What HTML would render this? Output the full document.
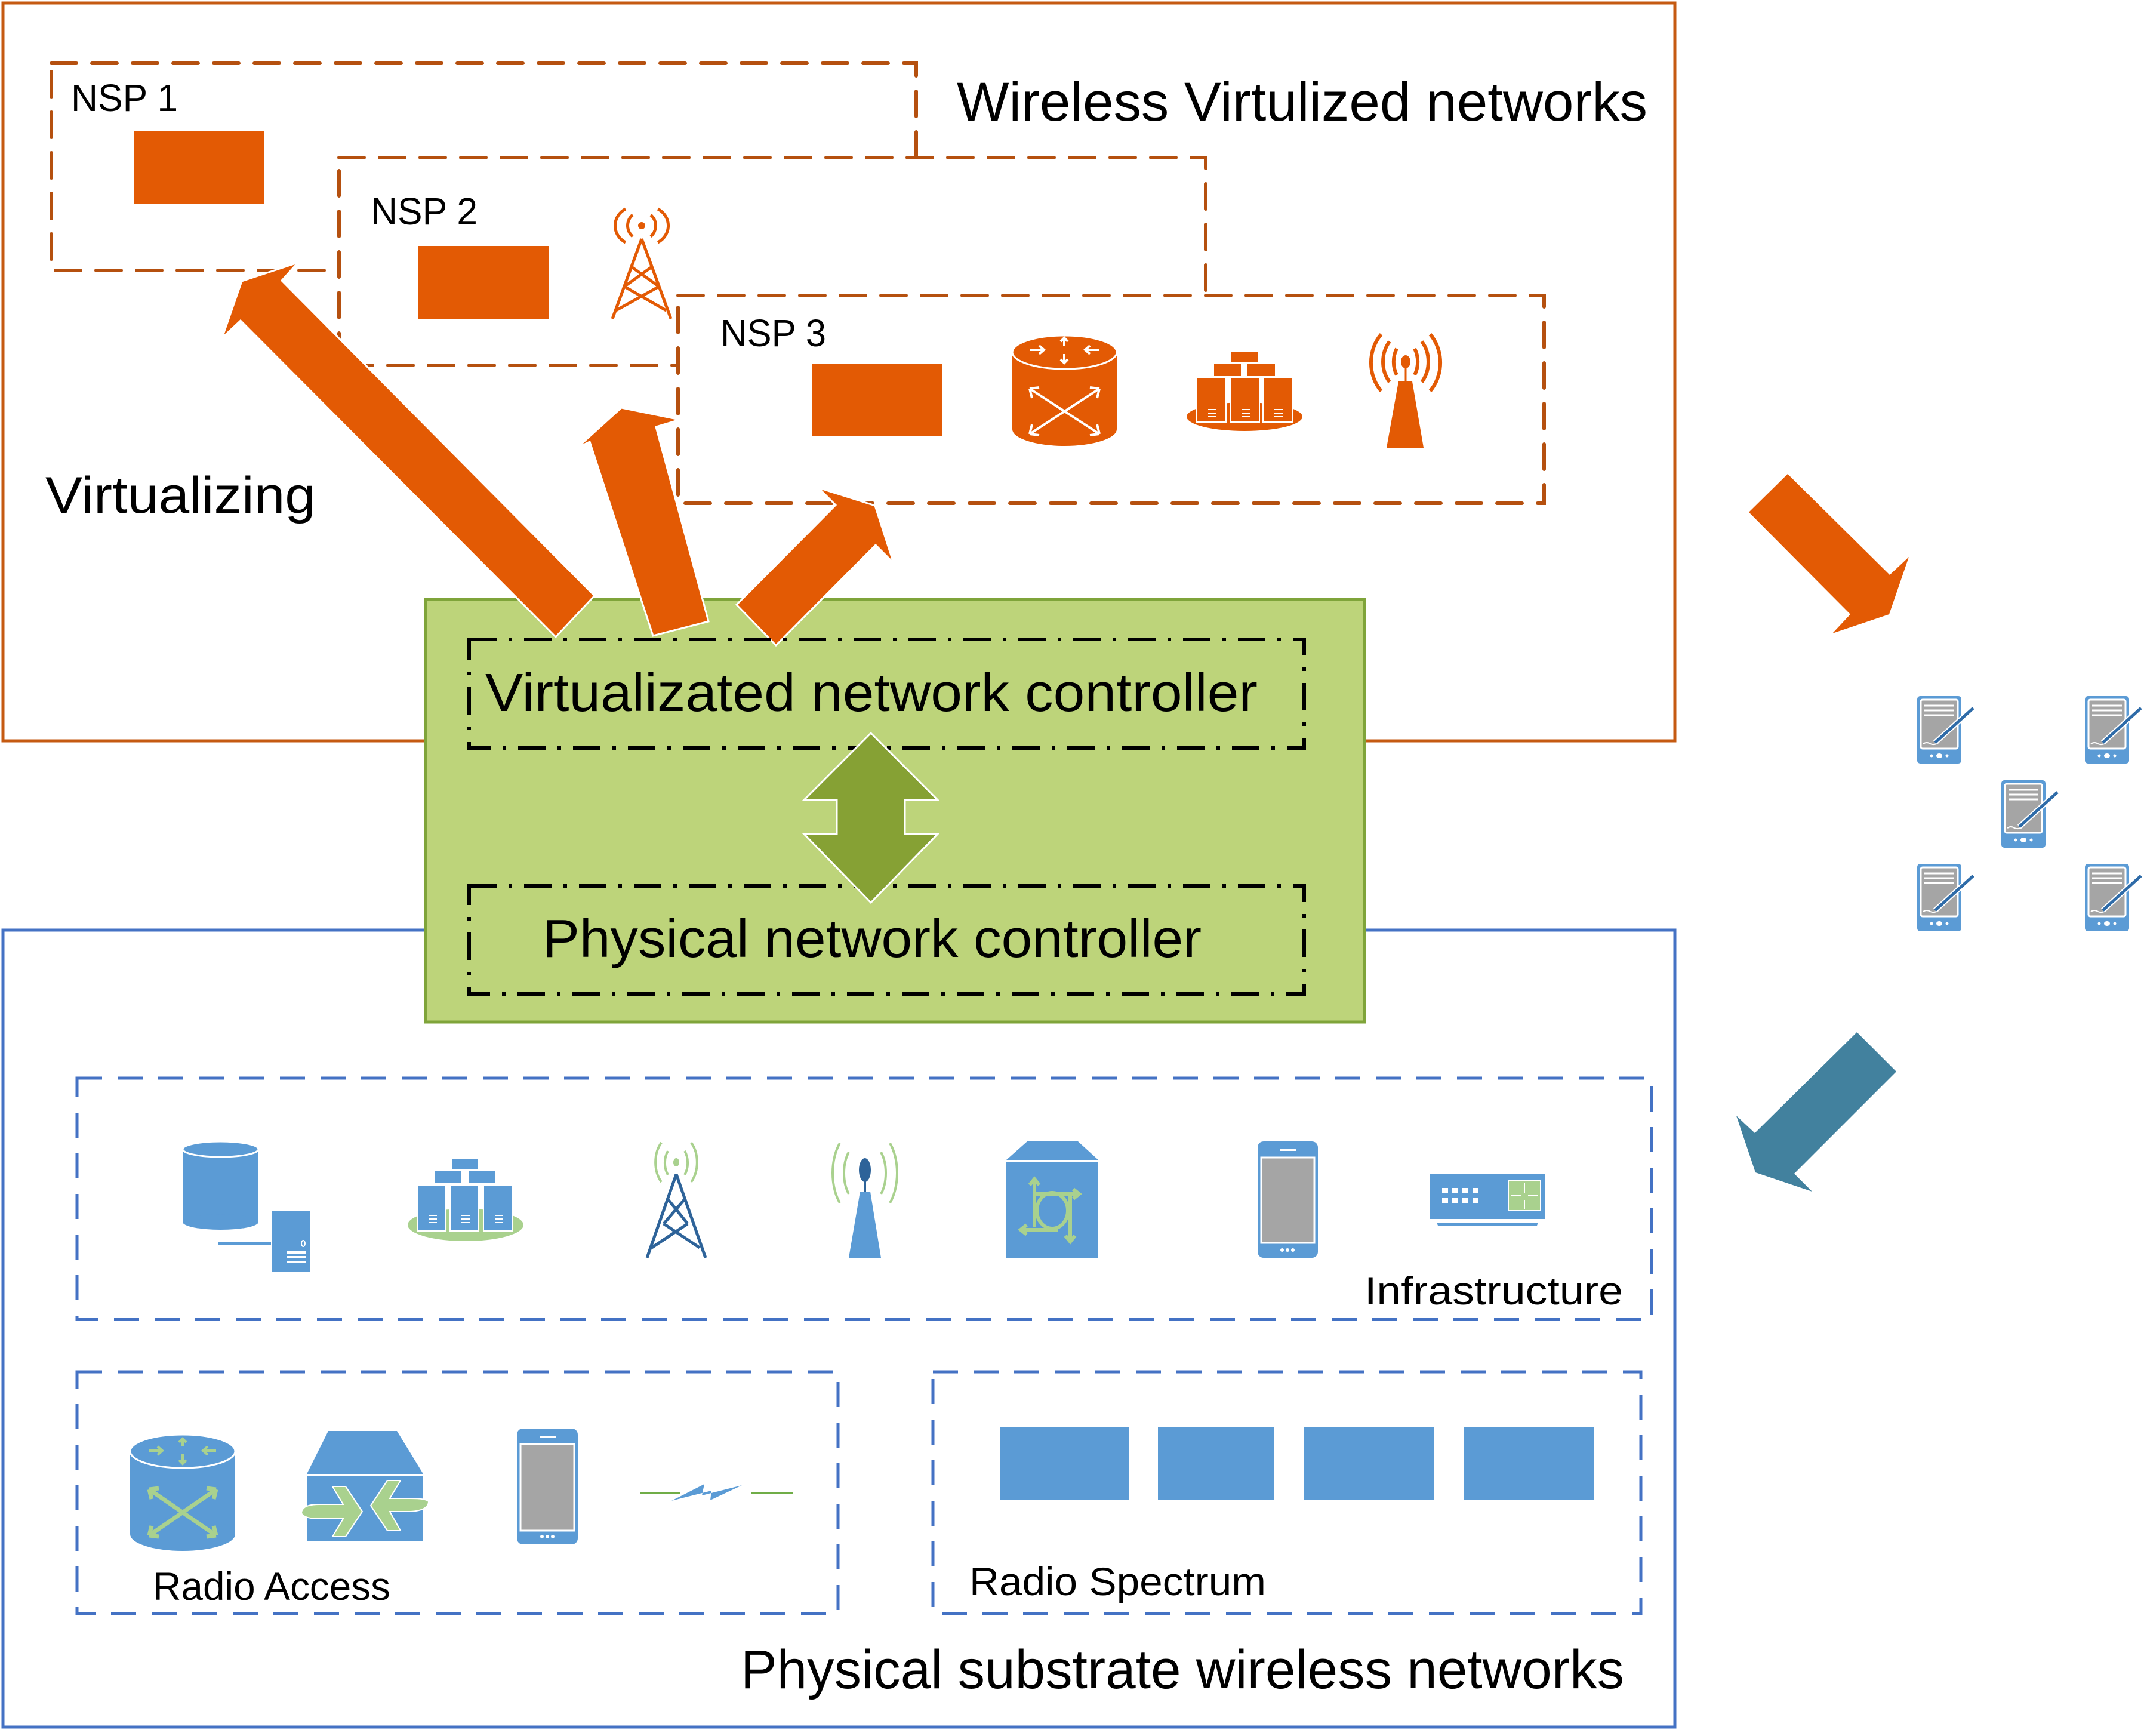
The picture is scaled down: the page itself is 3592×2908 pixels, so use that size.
<!DOCTYPE html>
<html><head><meta charset="utf-8"><style>html,body{margin:0;padding:0;background:#fff}svg{display:block}</style></head>
<body>
<svg xmlns="http://www.w3.org/2000/svg" width="3592" height="2908" viewBox="0 0 3592 2908" font-family="Liberation Sans, sans-serif">
<defs>
<g id="tab">
 <rect x="0" y="0" width="74" height="113" rx="5" fill="#5B9BD5"/>
 <rect x="6" y="6" width="62" height="82" rx="3" fill="#A5A5A5" stroke="#fff" stroke-width="3"/>
 <line x1="12" y1="16" x2="62" y2="16" stroke="#fff" stroke-width="3"/>
 <line x1="12" y1="24" x2="62" y2="24" stroke="#fff" stroke-width="3"/>
 <line x1="12" y1="32" x2="62" y2="32" stroke="#fff" stroke-width="3"/>
 <path d="M10 80 q6 -4 12 0 q6 3 14 -2" fill="none" stroke="#fff" stroke-width="2"/>
 <line x1="30" y1="78" x2="94" y2="20" stroke="#fff" stroke-width="9"/>
 <line x1="30" y1="78" x2="94" y2="20" stroke="#2E6BA8" stroke-width="5"/>
 <circle cx="24" cy="100" r="2.5" fill="#fff"/><ellipse cx="37" cy="100" rx="5" ry="4" fill="#fff"/><circle cx="50" cy="100" r="2.5" fill="#fff"/>
</g>
</defs>

<!-- top orange box -->
<rect x="5" y="5" width="2801" height="1236" fill="#fff" stroke="#C55A11" stroke-width="5"/>
<!-- bottom blue box -->
<rect x="5" y="1558" width="2801" height="1335" fill="#fff" stroke="#4472C4" stroke-width="5"/>

<text x="1603" y="202" font-size="92" textLength="1157" lengthAdjust="spacingAndGlyphs">Wireless Virtulized networks</text>
<text x="76" y="859" font-size="86" textLength="453" lengthAdjust="spacingAndGlyphs">Virtualizing</text>

<!-- NSP boxes -->
<g stroke="#B5500F" stroke-width="6" stroke-dasharray="42 26" stroke-linecap="round" fill="#fff">
<rect x="86" y="106" width="1449" height="347"/>
<rect x="568" y="264" width="1452" height="348"/>
<rect x="1136" y="495" width="1451" height="348"/>
</g>
<text x="119" y="186" font-size="64" textLength="179" lengthAdjust="spacingAndGlyphs">NSP 1</text>
<text x="621" y="376" font-size="64" textLength="179" lengthAdjust="spacingAndGlyphs">NSP 2</text>
<text x="1207" y="580" font-size="64" textLength="177" lengthAdjust="spacingAndGlyphs">NSP 3</text>
<g fill="#E35A04">
<rect x="224" y="220" width="218" height="121"/>
<rect x="701" y="412" width="218" height="122"/>
<rect x="1361" y="609" width="217" height="122"/>
</g>

<!-- NSP2 tower (outline) -->
<g stroke="#E35A04" stroke-width="5" fill="none">
<path d="M1075 400 L1026 534 M1075 400 L1124 534 M1058 447 L1104 480 M1092 447 L1046 480 M1046 480 L1116 520 M1104 480 L1032 520"/>
<path d="M1060 360 a20 22 0 0 0 0 36 M1090 360 a20 22 0 0 1 0 36 M1048 350 a34 32 0 0 0 0 56 M1102 350 a34 32 0 0 1 0 56"/>
</g>
<circle cx="1075" cy="378" r="6" fill="#E35A04"/>

<!-- NSP3 icons: router cylinder -->
<g>
<rect x="1696" y="590" width="175" height="129" fill="#E35A04"/>
<ellipse cx="1783.5" cy="719" rx="87.5" ry="28" fill="#E35A04"/>
<ellipse cx="1783.5" cy="590" rx="87.5" ry="28" fill="#E35A04" stroke="#fff" stroke-width="3"/>
<g stroke="#fff" stroke-width="4" fill="none">
<path d="M1725 651 L1842 727 M1842 651 L1725 727"/>
<path d="M1725 651 l4 16 M1725 651 l16 -2 M1842 651 l-4 16 M1842 651 l-16 -2 M1725 727 l4 -16 M1725 727 l16 2 M1842 727 l-4 -16 M1842 727 l-16 2"/>
<path d="M1725 586 h24 m-8 -7 l8 7 l-8 7 M1842 586 h-24 m8 -7 l-8 7 l8 7 M1783 566 v14 m-6 -8 l6 -6 l6 6 M1783 593 v15 m-6 -6 l6 6 l6 -6"/>
</g>
</g>
<!-- server cluster orange -->
<g>
<ellipse cx="2085" cy="698" rx="97" ry="24" fill="#E35A04"/>
<g fill="#E35A04" stroke="#fff" stroke-width="2">
<rect x="2061" y="589" width="47" height="18"/>
<rect x="2033" y="609" width="47" height="22"/><rect x="2089" y="609" width="48" height="22"/>
<rect x="2005" y="633" width="49" height="74"/><rect x="2061" y="633" width="49" height="74"/><rect x="2116" y="633" width="49" height="74"/>
</g>
<g stroke="#fff" stroke-width="2">
<path d="M2024 686h14M2024 692h14M2024 698h14M2080 686h14M2080 692h14M2080 698h14M2135 686h14M2135 692h14M2135 698h14"/>
</g>
</g>
<!-- orange antenna -->
<g>
<polygon points="2343,639 2366,639 2385,750 2323,750" fill="#E35A04"/>
<line x1="2355" y1="610" x2="2355" y2="640" stroke="#E35A04" stroke-width="3"/>
<ellipse cx="2355" cy="606" rx="8" ry="11" fill="#E35A04"/>
<g stroke="#E35A04" stroke-width="6" fill="none">
<path d="M2340 584 a28 38 0 0 0 0 44 M2370 584 a28 38 0 0 1 0 44"/>
<path d="M2328 572 a45 52 0 0 0 0 68 M2382 572 a45 52 0 0 1 0 68"/>
<path d="M2314 560 a60 68 0 0 0 0 95 M2396 560 a60 68 0 0 1 0 95"/>
</g>
</g>

<!-- green controller box -->
<rect x="713" y="1004" width="1573" height="708" fill="#BDD47A" stroke="#7FA43A" stroke-width="5"/>

<!-- big orange arrows -->
<g fill="#E35A04" stroke="#fff" stroke-width="3" stroke-linejoin="miter">
<polygon points="472,470 499,440 405,471 372,566 403,537 931,1067 996,998"/>
<polygon points="1041,683 967,750 988,740 1094,1065 1187,1041 1099,715 1139,703"/>
<polygon points="1371,817 1400,846 1234,1013 1300,1081 1467,913 1497,943 1466,847"/>
</g>

<!-- dash-dot controller boxes -->
<g stroke="#000" stroke-width="6" stroke-dasharray="46 20 6 20" fill="none">
<rect x="786" y="1071" width="1399" height="182"/>
<rect x="786" y="1484" width="1399" height="181"/>
</g>
<text x="813" y="1191" font-size="90" textLength="1294" lengthAdjust="spacingAndGlyphs">Virtualizated network controller</text>
<text x="909" y="1603" font-size="90" textLength="1104" lengthAdjust="spacingAndGlyphs">Physical network controller</text>

<!-- double arrow -->
<polygon points="1459,1228 1571,1340 1516,1340 1516,1397 1571,1397 1459,1512 1347,1397 1402,1397 1402,1340 1347,1340" fill="#86A134" stroke="#fff" stroke-width="3"/>

<!-- right arrows -->
<polygon points="2995,794 2930,858 3100,1029 3070,1061 3165,1029 3198,933 3166,963" fill="#E35A04"/>
<polygon points="3111,1729 3177,1795 3006,1966 3036,1996 2941,1964 2909,1869 2940,1898" fill="#42819E"/>

<!-- tablets -->
<use href="#tab" x="3212" y="1166"/>
<use href="#tab" x="3493" y="1166"/>
<use href="#tab" x="3353" y="1307"/>
<use href="#tab" x="3212" y="1447"/>
<use href="#tab" x="3493" y="1447"/>

<!-- bottom dashed boxes -->
<g stroke="#4472C4" stroke-width="5" stroke-dasharray="42 26" fill="none">
<rect x="129" y="1806" width="2638" height="404"/>
<rect x="129" y="2298" width="1275" height="405"/>
<rect x="1563" y="2298" width="1186" height="405"/>
</g>
<text x="2286" y="2185" font-size="66" textLength="433" lengthAdjust="spacingAndGlyphs">Infrastructure</text>
<text x="256" y="2680" font-size="66" textLength="398" lengthAdjust="spacingAndGlyphs">Radio Access</text>
<text x="1624" y="2672" font-size="66" textLength="497" lengthAdjust="spacingAndGlyphs">Radio Spectrum</text>
<text x="1241" y="2828" font-size="92" textLength="1480" lengthAdjust="spacingAndGlyphs">Physical substrate wireless networks</text>

<g fill="#5B9BD5">
<rect x="1675" y="2391" width="217" height="122"/>
<rect x="1940" y="2391" width="195" height="122"/>
<rect x="2185" y="2391" width="218" height="122"/>
<rect x="2453" y="2391" width="218" height="122"/>
</g>

<!-- infra: DB + server -->
<g fill="#5B9BD5">
<rect x="306" y="1925" width="127" height="122"/>
<ellipse cx="369.5" cy="2047" rx="63.5" ry="13"/>
<ellipse cx="369.5" cy="1925" rx="63.5" ry="13" stroke="#fff" stroke-width="3"/>
<rect x="456" y="2029" width="64" height="101"/>
<rect x="366" y="2081" width="88" height="4"/>
</g>
<g stroke="#fff" stroke-width="4"><path d="M481 2098h32M481 2106h32M481 2114h32"/></g>
<ellipse cx="508" cy="2083" rx="3" ry="5" fill="none" stroke="#fff" stroke-width="2"/>

<!-- infra server cluster -->
<ellipse cx="780" cy="2052" rx="97" ry="27" fill="#A9D18E"/>
<g fill="#5B9BD5" stroke="#fff" stroke-width="2">
<rect x="756" y="1940" width="46" height="19"/>
<rect x="727" y="1961" width="47" height="22"/><rect x="784" y="1961" width="47" height="22"/>
<rect x="699" y="1986" width="48" height="76"/><rect x="754" y="1986" width="48" height="76"/><rect x="810" y="1986" width="48" height="76"/>
</g>
<g stroke="#fff" stroke-width="2"><path d="M718 2036h14M718 2042h14M718 2048h14M773 2036h14M773 2042h14M773 2048h14M829 2036h14M829 2042h14M829 2048h14"/></g>

<!-- infra tower -->
<g stroke="#2E6399" stroke-width="5" fill="none">
<path d="M1133 1967 L1084 2107 M1133 1967 L1182 2107 M1120 2010 L1152 2050 M1146 2010 L1112 2050 M1112 2050 L1172 2090 M1152 2050 L1092 2090"/>
</g>
<g stroke="#A9D18E" stroke-width="4" fill="none">
<path d="M1119 1928 a20 30 0 0 0 0 40 M1147 1928 a20 30 0 0 1 0 40 M1108 1914 a36 48 0 0 0 0 66 M1158 1914 a36 48 0 0 1 0 66"/>
</g>
<ellipse cx="1133" cy="1947" rx="5" ry="7" fill="#A9D18E"/>

<!-- infra antenna -->
<polygon points="1441,1996 1458,1996 1476,2107 1422,2107" fill="#5B9BD5"/>
<line x1="1449" y1="1965" x2="1449" y2="1996" stroke="#2E6399" stroke-width="4"/>
<ellipse cx="1449" cy="1960" rx="10" ry="20" fill="#2E6399"/>
<g stroke="#A9D18E" stroke-width="4" fill="none">
<path d="M1422 1930 a28 50 0 0 0 0 70 M1476 1930 a28 50 0 0 1 0 70"/>
<path d="M1407 1915 a40 70 0 0 0 0 100 M1491 1915 a40 70 0 0 1 0 100"/>
</g>

<!-- infra router box -->
<polygon points="1721,1912 1806,1912 1840,1943 1686,1943" fill="#5B9BD5"/>
<rect x="1686" y="1947" width="154" height="160" fill="#5B9BD5"/>
<g stroke="#A9D18E" stroke-width="6" fill="none">
<ellipse cx="1763" cy="2028" rx="26" ry="30"/>
<path d="M1733 1975v80M1793 2000v80M1733 2000h70M1713 2060h60"/>
<path d="M1725 1985l8-10l8 10M1798 1992l10 8l-10 8M1785 2070l8 10l8-10M1720 2052l-10 8l10 8"/>
</g>

<!-- infra phone -->
<rect x="2107" y="1912" width="101" height="195" rx="10" fill="#5B9BD5"/>
<rect x="2113" y="1939" width="89" height="143" fill="#A5A5A5" stroke="#fff" stroke-width="3"/>
<rect x="2144" y="1924" width="27" height="4" fill="#fff"/>
<g fill="#fff"><circle cx="2148" cy="2094" r="3"/><circle cx="2157" cy="2094" r="3"/><circle cx="2166" cy="2094" r="3"/></g>

<!-- infra switch -->
<rect x="2395" y="1966" width="194" height="76" fill="#5B9BD5"/>
<polygon points="2407,2048 2577,2048 2575,2053 2409,2053" fill="#5B9BD5"/>
<rect x="2527" y="1978" width="54" height="50" fill="#A9D18E" stroke="#fff" stroke-width="2"/>
<g fill="#fff"><rect x="2416" y="1990" width="10" height="9"/><rect x="2433" y="1990" width="10" height="9"/><rect x="2450" y="1990" width="10" height="9"/><rect x="2467" y="1990" width="10" height="9"/>
<rect x="2416" y="2007" width="10" height="9"/><rect x="2433" y="2007" width="10" height="9"/><rect x="2450" y="2007" width="10" height="9"/><rect x="2467" y="2007" width="10" height="9"/></g>
<g stroke="#fff" stroke-width="2"><path d="M2554 1982v16M2554 2010v16M2532 2003h16M2560 2003h16"/></g>

<!-- radio access: router cylinder -->
<rect x="218" y="2431" width="176" height="139" fill="#5B9BD5"/>
<ellipse cx="306" cy="2570" rx="88" ry="28" fill="#5B9BD5"/>
<ellipse cx="306" cy="2431" rx="88" ry="28" fill="#5B9BD5" stroke="#fff" stroke-width="3"/>
<g stroke="#A9D18E" stroke-width="7" fill="none">
<path d="M250 2495 L362 2572 M362 2495 L250 2572"/>
<path d="M250 2495 l4 16 M250 2495 l16 -2 M362 2495 l-4 16 M362 2495 l-16 -2 M250 2572 l4 -16 M250 2572 l16 2 M362 2572 l-4 -16 M362 2572 l-16 2"/>
</g>
<g stroke="#A9D18E" stroke-width="4" fill="none">
<path d="M250 2430 h22 m-8 -7 l8 7 l-8 7 M362 2430 h-22 m8 -7 l-8 7 l8 7 M306 2410 v12 m-6 -6 l6 -6 l6 6 M306 2436 v16 m-6 -6 l6 6 l6 -6"/>
</g>

<!-- radio access: switch box -->
<polygon points="550,2397 665,2397 709,2469 514,2469" fill="#5B9BD5"/>
<rect x="514" y="2472" width="195" height="110" fill="#5B9BD5"/>
<g fill="#A9D18E" stroke="#fff" stroke-width="2">
<path d="M505 2535 q0 -15 30 -15 h40 l-18 -30 h22 l28 42 l-28 42 h-22 l18 -30 h-40 q-25 0 -30 -9z"/>
<path d="M718 2515 q0 15 -30 17 h-35 l18 32 h-22 l-28 -42 l28 -42 h22 l-18 30 h35 q25 0 30 5z"/>
</g>

<!-- radio access phone -->
<rect x="866" y="2393" width="102" height="194" rx="10" fill="#5B9BD5"/>
<rect x="872" y="2419" width="90" height="145" fill="#A5A5A5" stroke="#fff" stroke-width="3"/>
<rect x="905" y="2405" width="26" height="4" fill="#fff"/>
<g fill="#fff"><circle cx="908" cy="2574" r="3"/><circle cx="917" cy="2574" r="3"/><circle cx="926" cy="2574" r="3"/></g>

<!-- lightning link -->
<g stroke="#70AD47" stroke-width="4"><line x1="1073" y1="2501" x2="1140" y2="2501"/><line x1="1258" y1="2501" x2="1328" y2="2501"/></g>
<polygon points="1125,2514 1180,2486 1176,2505 1243,2488 1190,2513 1192,2497" fill="#5B9BD5"/>
</svg>
</body></html>
